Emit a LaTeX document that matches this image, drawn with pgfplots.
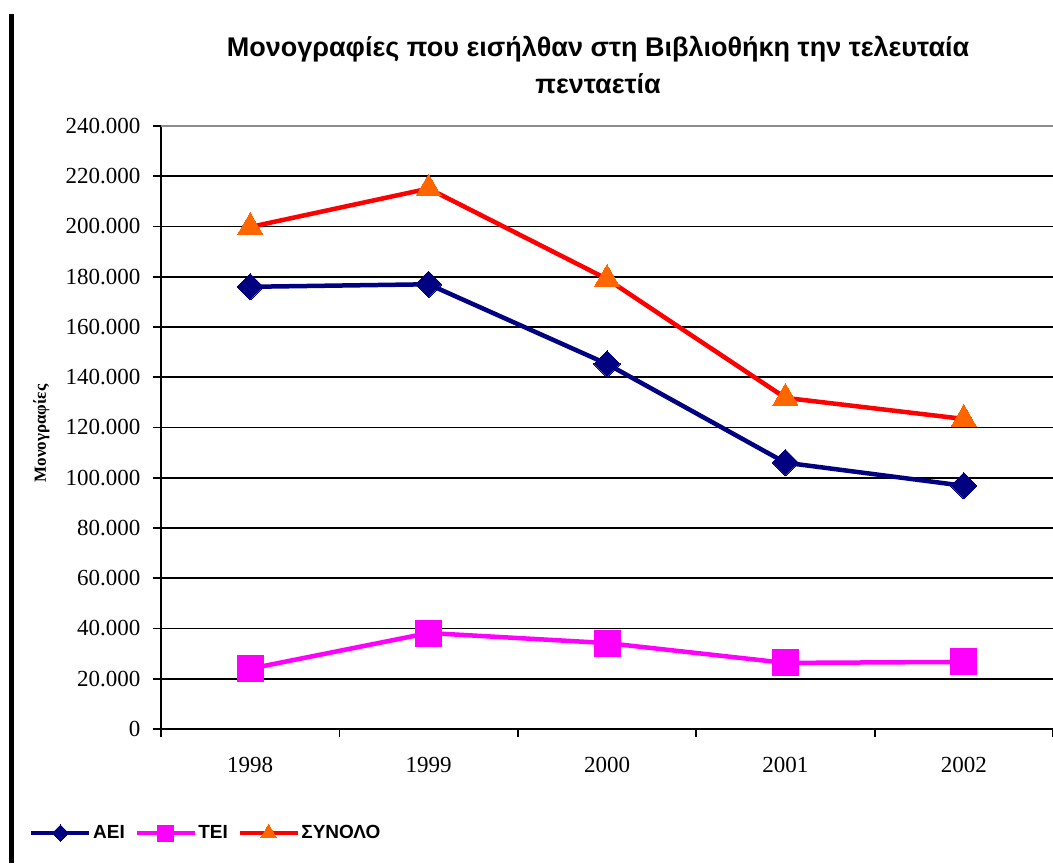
\documentclass[border=0pt]{standalone}
\usepackage{fontspec}
\setmainfont{Liberation Serif}
\newfontfamily\arial{Liberation Sans}
\usepackage{pgfplots}
\pgfplotsset{compat=1.18}
\definecolor{aei}{HTML}{000080}
\definecolor{tei}{HTML}{FF00FF}
\definecolor{syn}{HTML}{FF0000}
\definecolor{synmark}{HTML}{FF6600}
\begin{document}
\begin{tikzpicture}[x=1pt,y=1pt]
\useasboundingbox (0,0) rectangle (1053,863);
\fill[black] (9,0) rectangle (14,849);
\node[font=\arial\bfseries\fontsize{27}{37}\selectfont, align=center] at (598,798) {Μονογραφίες που εισήλθαν στη Βιβλιοθήκη την τελευταία\\πενταετία};
\begin{axis}[
  at={(250.2pt,134pt)}, anchor=origin,
  scale only axis, width=892pt, height=603pt,
  xmin=-0.5, xmax=4.5, ymin=0, ymax=240000,
  axis x line*=bottom, axis y line*=left,
  axis line style={-, line width=1.8pt, black},
  scaled y ticks=false,
  ytick={0,20000,40000,60000,80000,100000,120000,140000,160000,180000,200000,220000},
  yticklabels={0,20.000,40.000,60.000,80.000,100.000,120.000,140.000,160.000,180.000,200.000,220.000},
  extra y ticks={240000},
  extra y tick labels={240.000},
  extra y tick style={grid style={gray!90, line width=1.8pt}},
  ymajorgrids,
  grid style={black, line width=1.8pt},
  tick label style={font=\fontsize{23}{26}\selectfont},
  tick align=outside,
  major tick length=8pt,
  minor tick length=8pt,
  tick style={black, line width=1.8pt},
  xtick={0,1,2,3,4},
  xticklabels={1998,1999,2000,2001,2002},
  minor xtick={-0.5,0.5,1.5,2.5,3.5,4.5},
  major x tick style={draw=none},
  xticklabel style={yshift=-17pt},
  yticklabel style={xshift=-9pt},
  ylabel={\bfseries Μονογραφίες},
  ylabel style={font=\fontsize{17}{20}\selectfont, at={(axis description cs:-0.134,0.49)}, anchor=center},
  legend columns=3,
  legend style={at={(axis description cs:-0.148,-0.1725)}, anchor=west, draw=none, fill=none,
    font=\arial\bfseries\fontsize{19}{22}\selectfont, column sep=0pt, inner sep=0pt,
    nodes={inner sep=1.5pt},
    /tikz/every even column/.append style={column sep=8pt}},
  legend image code/.code={
    \draw[#1, mark=none] (0pt,0pt) -- (58pt,0pt);
    \path[#1, /tikz/every mark/.append style={scale=0.62}] plot coordinates {(29pt,0pt)};
  },
]
\addplot[aei, line width=4.5pt, mark=square*, mark size=9.3pt, mark options={rotate=45, line width=0pt, fill=aei}]
  coordinates {(0,176000) (1,177000) (2,145300) (3,106000) (4,96800)};
\addlegendentry{ΑΕΙ}
\addplot[tei, line width=4.5pt, mark=square*, mark size=13pt, mark options={line width=0pt, fill=tei}]
  coordinates {(0,24000) (1,38200) (2,34200) (3,26300) (4,26700)};
\addlegendentry{ΤΕΙ}
\addplot[syn, line width=4.5pt, mark=triangle*, mark size=14.5pt, mark options={line width=0pt, fill=synmark, draw=synmark}]
  coordinates {(0,199800) (1,215100) (2,179100) (3,131800) (4,123400)};
\addlegendentry{ΣΥΝΟΛΟ}
\end{axis}
\end{tikzpicture}
\end{document}
